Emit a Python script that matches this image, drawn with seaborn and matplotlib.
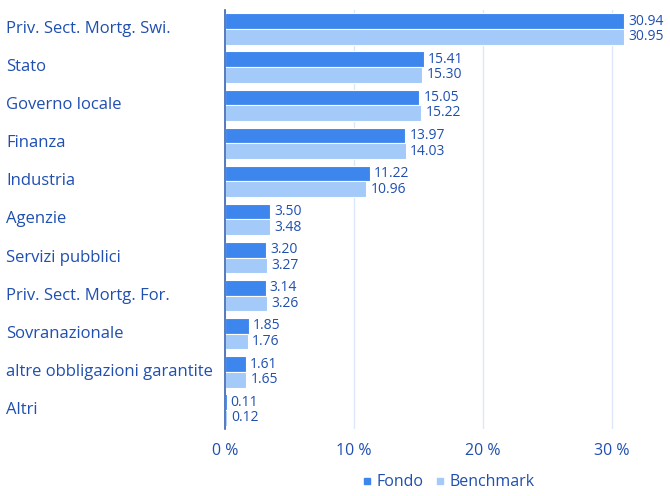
import matplotlib
matplotlib.use("Agg")
from matplotlib import pyplot as plt
from matplotlib.lines import Line2D
from matplotlib.transforms import blended_transform_factory
import seaborn as sns
import pandas as pd

categories = ["Priv. Sect. Mortg. Swi.", "Stato", "Governo locale", "Finanza", "Industria",
              "Agenzie", "Servizi pubblici", "Priv. Sect. Mortg. For.", "Sovranazionale",
              "altre obbligazioni garantite", "Altri"]
fondo = [30.94, 15.41, 15.05, 13.97, 11.22, 3.50, 3.20, 3.14, 1.85, 1.61, 0.11]
benchmark = [30.95, 15.30, 15.22, 14.03, 10.96, 3.48, 3.27, 3.26, 1.76, 1.65, 0.12]
series = ["Fondo", "Benchmark"]
x_ticks = [0, 10, 20, 30]

TEXT = "#1f4fb0"
COLORS = ["#3d86ee", "#a3caf8"]

df = pd.DataFrame({
    "Settore": categories * 2,
    "Valore": fondo + benchmark,
    "Serie": ["Fondo"] * len(categories) + ["Benchmark"] * len(categories),
})

sns.set_style("white")
plt.rcParams["font.family"] = ["Open Sans", "DejaVu Sans"]

fig = plt.figure(figsize=(6.7, 4.96), dpi=100)
ax = fig.add_axes([0.336, 0.135, 0.664, 0.845])

sns.barplot(data=df, y="Settore", x="Valore", hue="Serie", order=categories,
            hue_order=series, palette=COLORS, saturation=1, orient="h", width=0.82,
            edgecolor="white", linewidth=0.8, legend=False, ax=ax)

for cont in ax.containers:
    ax.bar_label(cont, fmt="%.2f", padding=3, fontsize=10, color=TEXT)

ax.set_xlim(0, 34.5)
ax.set_ylim(len(categories) - 0.5, -0.5)
ax.set_xticks(x_ticks)
ax.set_xticklabels([f"{t} %" for t in x_ticks], fontsize=11.5, color=TEXT)
ax.tick_params(axis="x", length=0, pad=10)
ax.grid(axis="x", color="#dce8f8", linewidth=1)
ax.set_axisbelow(True)
for s in ["top", "right", "bottom"]:
    ax.spines[s].set_visible(False)
ax.spines["left"].set_color("#3a64b0")
ax.spines["left"].set_linewidth(1.2)
ax.set_xlabel("")
ax.set_ylabel("")
ax.set_yticks(range(len(categories)))
ax.set_yticklabels([])
ax.tick_params(axis="y", length=0)

trans = blended_transform_factory(fig.transFigure, ax.transData)
for i, cat in enumerate(categories):
    ax.text(6 / 670, i, cat, transform=trans, ha="left", va="center",
            fontsize=12, color=TEXT)

handles = [Line2D([], [], marker="s", linestyle="", markersize=4, color=c) for c in COLORS]
ax.legend(handles, series, loc="center", bbox_to_anchor=(0.5, -0.127), ncol=2,
          frameon=False, fontsize=11.5, labelcolor=TEXT, handletextpad=0.2,
          columnspacing=0.6, handlelength=0.8)

fig.savefig("out.png", dpi=100)
